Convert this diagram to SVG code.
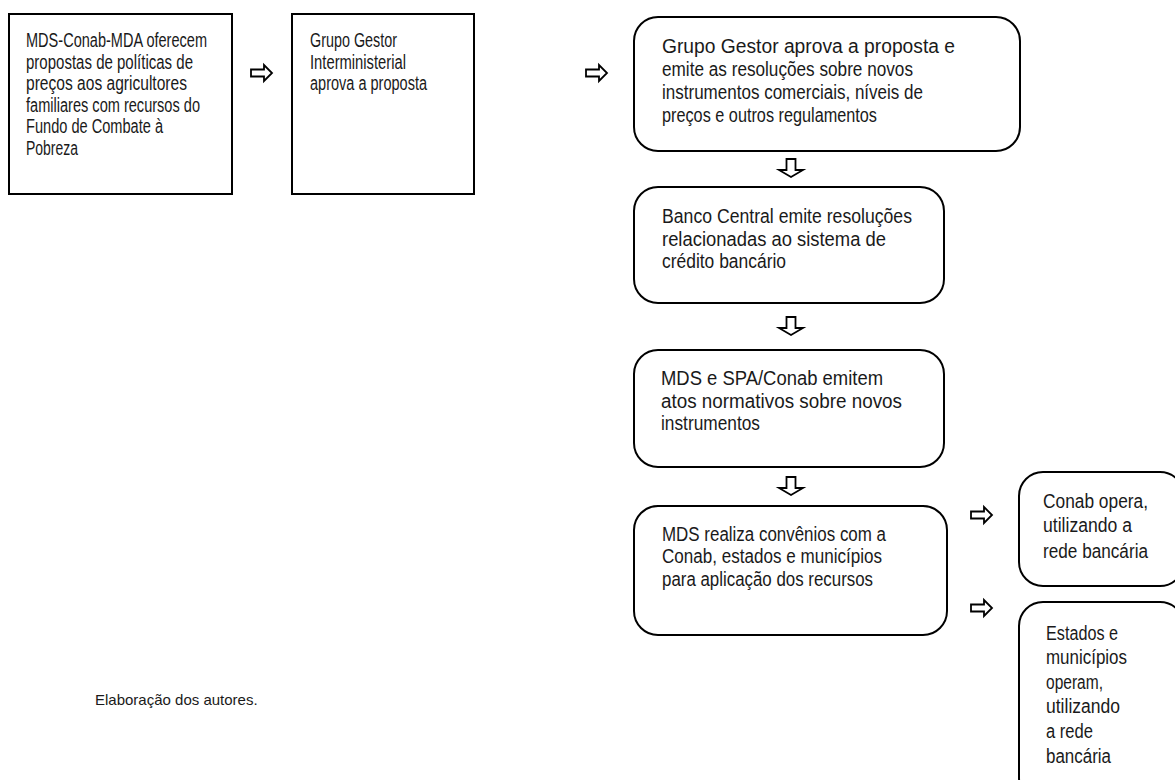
<svg xmlns="http://www.w3.org/2000/svg" width="1175" height="780" viewBox="0 0 1175 780">
<style>
.box{fill:#fff;stroke:#000;stroke-width:2}
.arr{fill:#fff;stroke:#000;stroke-width:1.8;stroke-linejoin:miter}
text{font-family:"Liberation Sans",Arial,sans-serif;font-size:20px;fill:#1a1a1a}
.cap{font-size:15px}
</style>
<defs>
<path id="ra" d="M0,-3.5 H13 V-8 L21,0 L13,8 V3.5 H0 Z"/>
<path id="da" d="M-4.5,0 V11 H-12 L0,18 L12,11 H4.5 V0 Z"/>
</defs>
<g id="connectors">
<use href="#ra" class="arr" x="251" y="73"/>
<use href="#ra" class="arr" x="586" y="73"/>
<use href="#da" class="arr" x="791" y="159"/>
<use href="#da" class="arr" x="791" y="317"/>
<use href="#da" class="arr" x="791" y="477"/>
<use href="#ra" class="arr" x="971" y="515"/>
<use href="#ra" class="arr" x="971" y="608"/>
</g>
<g id="n1">
<rect class="box" x="9" y="14" width="223" height="180"/>
<text x="26" y="47" textLength="181" lengthAdjust="spacingAndGlyphs">MDS-Conab-MDA oferecem</text>
<text x="26" y="68.5" textLength="167" lengthAdjust="spacingAndGlyphs">propostas de políticas de</text>
<text x="26" y="90" textLength="161" lengthAdjust="spacingAndGlyphs">preços aos agricultores</text>
<text x="26" y="111.5" textLength="174" lengthAdjust="spacingAndGlyphs">familiares com recursos do</text>
<text x="26" y="133" textLength="137" lengthAdjust="spacingAndGlyphs">Fundo de Combate à</text>
<text x="26" y="154.5" textLength="52" lengthAdjust="spacingAndGlyphs">Pobreza</text>
</g>
<g id="n2">
<rect class="box" x="292" y="14" width="182" height="180"/>
<text x="310" y="47" textLength="87" lengthAdjust="spacingAndGlyphs">Grupo Gestor</text>
<text x="310" y="68.5" textLength="96" lengthAdjust="spacingAndGlyphs">Interministerial</text>
<text x="310" y="90" textLength="117" lengthAdjust="spacingAndGlyphs">aprova a proposta</text>
</g>
<g id="n3">
<rect class="box" x="634" y="17" width="386" height="134" rx="24"/>
<text x="662" y="53" textLength="293" lengthAdjust="spacingAndGlyphs">Grupo Gestor aprova a proposta e</text>
<text x="662" y="76" textLength="251" lengthAdjust="spacingAndGlyphs">emite as resoluções sobre  novos</text>
<text x="662" y="98.5" textLength="261" lengthAdjust="spacingAndGlyphs">instrumentos comerciais, níveis de</text>
<text x="662" y="121.5" textLength="215" lengthAdjust="spacingAndGlyphs">preços e outros regulamentos</text>
</g>
<g id="n4">
<rect class="box" x="634" y="187" width="310" height="116" rx="24"/>
<text x="662" y="223" textLength="250" lengthAdjust="spacingAndGlyphs">Banco Central emite resoluções</text>
<text x="662" y="245.5" textLength="224" lengthAdjust="spacingAndGlyphs">relacionadas ao sistema de</text>
<text x="662" y="268" textLength="124" lengthAdjust="spacingAndGlyphs">crédito bancário</text>
</g>
<g id="n5">
<rect class="box" x="634" y="350" width="310" height="117" rx="24"/>
<text x="661" y="385" textLength="222" lengthAdjust="spacingAndGlyphs">MDS e SPA/Conab emitem</text>
<text x="661" y="407.5" textLength="241" lengthAdjust="spacingAndGlyphs">atos normativos sobre novos</text>
<text x="661" y="430" textLength="99" lengthAdjust="spacingAndGlyphs">instrumentos</text>
</g>
<g id="n6">
<rect class="box" x="634" y="506" width="313" height="129" rx="24"/>
<text x="662" y="541" textLength="224" lengthAdjust="spacingAndGlyphs">MDS realiza convênios com a</text>
<text x="662" y="563" textLength="220" lengthAdjust="spacingAndGlyphs">Conab, estados e municípios</text>
<text x="662" y="585.5" textLength="211" lengthAdjust="spacingAndGlyphs">para aplicação dos recursos</text>
</g>
<g id="n7">
<rect class="box" x="1019" y="472" width="165" height="114" rx="24"/>
<text x="1043" y="508" textLength="105" lengthAdjust="spacingAndGlyphs">Conab opera,</text>
<text x="1043" y="532" textLength="89" lengthAdjust="spacingAndGlyphs">utilizando a</text>
<text x="1043" y="558" textLength="105" lengthAdjust="spacingAndGlyphs">rede bancária</text>
</g>
<g id="n8">
<rect class="box" x="1019" y="602" width="165" height="200" rx="24"/>
<text x="1046" y="640" textLength="72" lengthAdjust="spacingAndGlyphs">Estados e</text>
<text x="1046" y="664" textLength="81" lengthAdjust="spacingAndGlyphs">municípios</text>
<text x="1046" y="689" textLength="57" lengthAdjust="spacingAndGlyphs">operam,</text>
<text x="1046" y="713" textLength="74" lengthAdjust="spacingAndGlyphs">utilizando</text>
<text x="1046" y="738" textLength="47" lengthAdjust="spacingAndGlyphs">a rede</text>
<text x="1046" y="763" textLength="65" lengthAdjust="spacingAndGlyphs">bancária</text>
</g>
<text class="cap" x="95" y="705">Elaboração dos autores.</text>
</svg>
